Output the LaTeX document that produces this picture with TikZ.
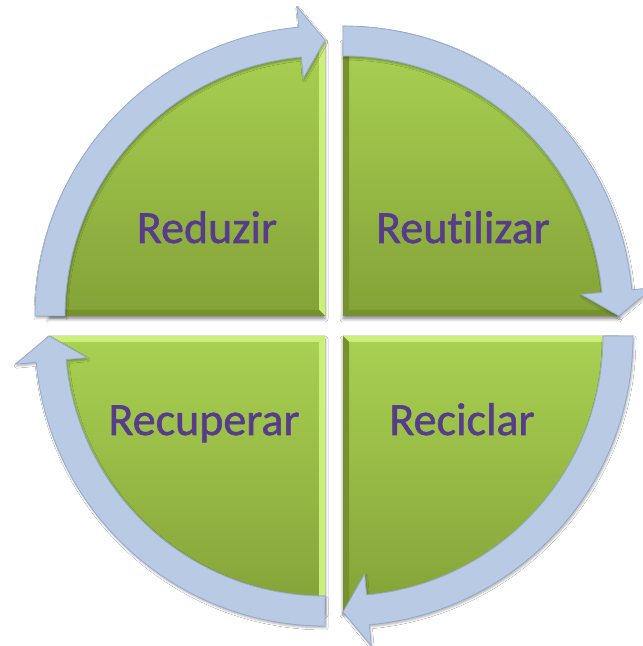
\documentclass[tikz,border=0pt]{standalone}
\usepackage{fontspec}
\setmainfont{Carlito}[Ligatures={NoCommon}]
\usetikzlibrary{shadows.blur}
\definecolor{pietop}{HTML}{A9D152}
\definecolor{piebot}{HTML}{84A238}
\definecolor{bevlight}{HTML}{CBEF78}
\definecolor{bevdark}{HTML}{76922E}
\definecolor{arrowfill}{HTML}{B9CAE4}
\definecolor{arrowline}{HTML}{94AACD}
\definecolor{labelcol}{HTML}{563C8A}
\tikzset{
  piece/.style={top color=pietop, bottom color=piebot, draw=none,
    blur shadow={shadow xshift=0pt, shadow yshift=-3pt, shadow blur radius=3pt, shadow opacity=45}},
  lightedge/.style={fill=bevlight, draw=none},
  darkedge/.style={fill=bevdark, draw=none},
  cyclearrow/.style={fill=arrowfill, draw=arrowline, line width=0.8pt, line join=round,
    blur shadow={shadow xshift=1pt, shadow yshift=-2pt, shadow blur radius=2pt, shadow opacity=30}},
  label/.style={font=\fontsize{46}{50}\selectfont\addfontfeature{FakeBold=1.2},
    text=labelcol, inner sep=0pt, anchor=base}
}
% curved arrow running clockwise a quarter turn from angle #3 around centre (#1,#2)
\newcommand{\quarterarrow}[3]{%
  \begin{scope}[shift={(#1,#2)}]
    \pgfmathsetmacro{\tipang}{#3-90}
    \pgfmathsetmacro{\baseang}{#3-90+5.2}
    \path[cyclearrow] (#3:290pt) arc[start angle=#3, end angle=\baseang, radius=290pt]
      -- (\baseang:311pt) -- (\tipang:276pt) -- (\baseang:239pt) -- (\baseang:260pt)
      arc[start angle=\baseang, end angle=#3, radius=260pt] -- cycle;
  \end{scope}}
\begin{document}
\begin{tikzpicture}[x=1pt,y=1pt]
\useasboundingbox (0,0) rectangle (643,646);
\fill[white] (0,0) rectangle (643,646);

% four quarter discs
\path[piece] (325,330) -- (49,330) arc[start angle=180, end angle=90, radius=276pt] -- cycle;
\path[piece] (343,330) -- (343,606) arc[start angle=90, end angle=0, radius=276pt] -- cycle;
\path[piece] (343,310) -- (619,310) arc[start angle=0, end angle=-90, radius=276pt] -- cycle;
\path[piece] (325,310) -- (325,34) arc[start angle=-90, end angle=-180, radius=276pt] -- cycle;

% bevelled straight edges
\path[lightedge] (325,330) -- (325,606) -- (319,600) -- (319,336) -- cycle;
\path[darkedge] (49,330) -- (325,330) -- (319,336) -- (55,336) -- cycle;
\path[darkedge] (343,330) -- (343,606) -- (349,600) -- (349,336) -- cycle;
\path[darkedge] (343,330) -- (619,330) -- (613,336) -- (349,336) -- cycle;
\path[lightedge] (49,310) -- (325,310) -- (319,304) -- (55,304) -- cycle;
\path[lightedge] (325,310) -- (325,34) -- (319,40) -- (319,304) -- cycle;
\path[lightedge] (343,310) -- (619,310) -- (613,304) -- (349,304) -- cycle;
\path[darkedge] (343,310) -- (343,34) -- (349,40) -- (349,304) -- cycle;

% circular arrows round the rim
\quarterarrow{325}{330}{180}
\quarterarrow{343}{330}{90}
\quarterarrow{343}{310}{0}
\quarterarrow{325}{310}{-90}

% labels
\node[label] (reduzir) at (207,403) {Reduzir};
\node[label] (reutilizar) at (463,403) {Reutilizar};
\node[label] (recuperar) at (204,211) {Recuperar};
\node[label] (reciclar) at (462,211) {Reciclar};
\end{tikzpicture}
\end{document}
